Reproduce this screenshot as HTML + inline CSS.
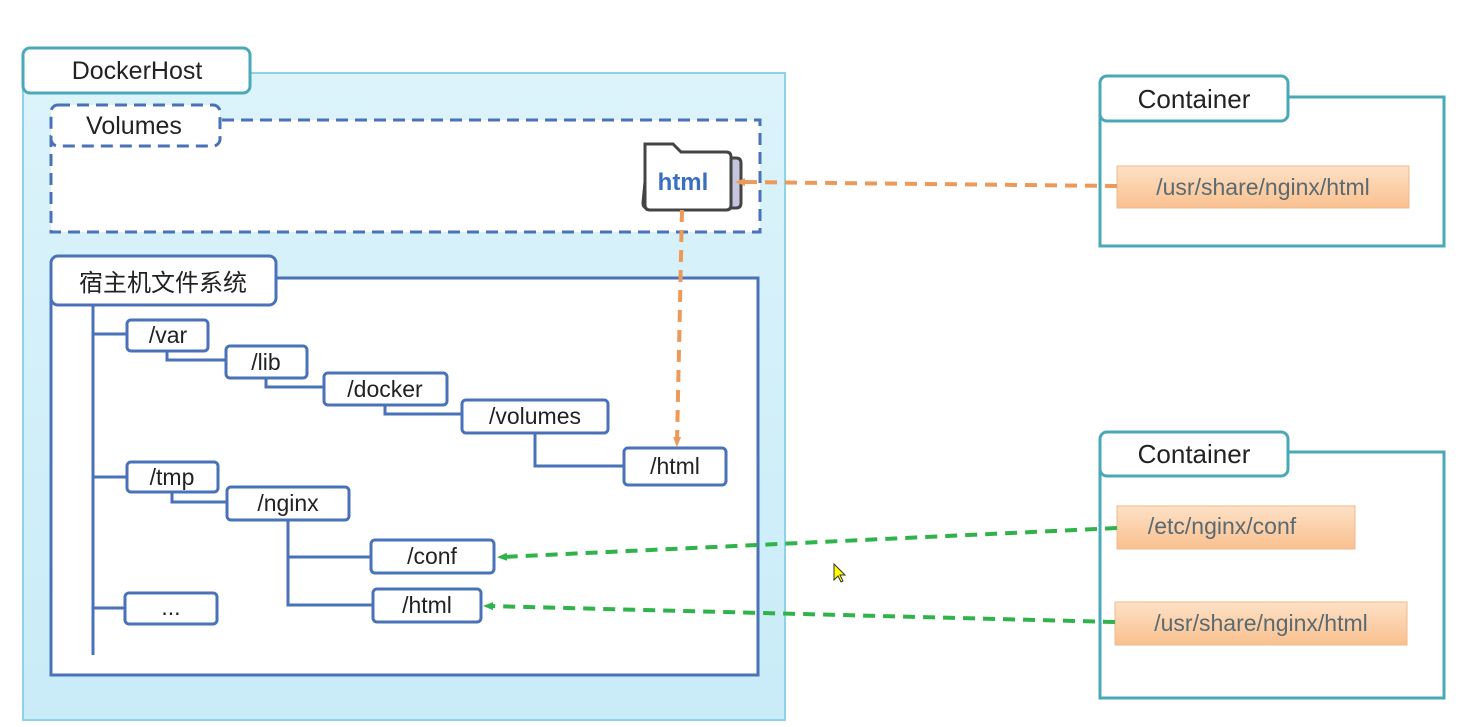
<!DOCTYPE html><html><head><meta charset="utf-8"><style>body{margin:0;background:#fff}svg{display:block}text{font-family:"Liberation Sans","Noto Sans CJK SC",sans-serif}</style></head><body>
<svg width="1467" height="727" viewBox="0 0 1467 727" xmlns="http://www.w3.org/2000/svg">
<defs>
<linearGradient id="g" x1="0" y1="0" x2="0" y2="1"><stop offset="0" stop-color="#dcf3fb"/><stop offset="1" stop-color="#c9ecf8"/></linearGradient>
<linearGradient id="o" x1="0" y1="0" x2="0" y2="1"><stop offset="0" stop-color="#fde1c6"/><stop offset="1" stop-color="#f9c08f"/></linearGradient>
<marker id="ao" markerUnits="userSpaceOnUse" markerWidth="10" markerHeight="10" refX="5" refY="5" orient="auto"><path d="M0,1 L10,5 L0,9 Z" fill="#ec9a5a"/></marker>
<marker id="ag" markerUnits="userSpaceOnUse" markerWidth="10" markerHeight="10" refX="5" refY="5" orient="auto"><path d="M0,1 L10,5 L0,9 Z" fill="#2fb34a"/></marker>
</defs>
<rect x="23" y="73" width="762" height="647" fill="url(#g)" stroke="#8fd4e6" stroke-width="2"/>
<rect x="23" y="48" width="227" height="45" rx="7" fill="#fff" stroke="#4aa8b8" stroke-width="3"/>
<text x="137" y="79" font-size="25" text-anchor="middle" fill="#222">DockerHost</text>
<rect x="51" y="120" width="709" height="112" fill="#fff" stroke="#4a72b8" stroke-width="3" stroke-dasharray="12,7"/>
<rect x="51" y="105" width="169" height="41" rx="7" fill="#fff" stroke="#4a72b8" stroke-width="3" stroke-dasharray="12,7"/>
<text x="134" y="134" font-size="25" text-anchor="middle" fill="#222">Volumes</text>
<path d="M648,150 l30,0 l8,8 l50,0 q5,0 5,5 l0,40 q0,5 -5,5 l-88,0 q-5,0 -5,-5 z" fill="#c5c6dd" stroke="#444" stroke-width="3"/>
<path d="M645,144 l28,0 l8,8 l45,0 q5,0 5,5 l0,48 q0,5 -5,5 l-76,0 q-5,0 -5,-5 z" fill="#fff" stroke="#444" stroke-width="3"/>
<text x="683" y="190" font-size="24" font-weight="bold" text-anchor="middle" fill="#3b6fc0">html</text>
<rect x="51" y="278" width="707" height="397" fill="#fff" stroke="#4a72b8" stroke-width="3"/>
<rect x="51" y="256" width="225" height="49" rx="7" fill="#fff" stroke="#4a72b8" stroke-width="3"/>
<text x="163" y="291" font-size="24" text-anchor="middle" fill="#222">宿主机文件系统</text>
<g stroke="#4a72b8" stroke-width="3" fill="none">
<path d="M93,305 V655 M93,334 H127 M93,477 H127 M93,608 H125"/>
<path d="M167,351 V360 H226 M266,378 V387 H324 M385,405 V414 H462 M535,433 V466 H624"/>
<path d="M172,492 V502 H227 M288,520 V605 H373 M288,557 H371"/>
</g>
<g fill="#fff" stroke="#4a72b8" stroke-width="3">
<rect x="127" y="320" width="81" height="31" rx="4"/><rect x="226" y="346" width="81" height="32" rx="4"/>
<rect x="324" y="373" width="123" height="32" rx="4"/><rect x="462" y="400" width="146" height="33" rx="4"/>
<rect x="624" y="448" width="102" height="37" rx="4"/><rect x="127" y="462" width="91" height="30" rx="4"/>
<rect x="227" y="487" width="122" height="33" rx="4"/><rect x="371" y="540" width="123" height="33" rx="4"/>
<rect x="373" y="589" width="108" height="33" rx="4"/><rect x="125" y="593" width="92" height="31" rx="4"/>
</g>
<g font-size="23" fill="#222" text-anchor="middle">
<text x="168" y="343">/var</text><text x="266" y="370">/lib</text><text x="385" y="397">/docker</text>
<text x="535" y="424">/volumes</text><text x="675" y="474">/html</text><text x="172" y="485">/tmp</text>
<text x="288" y="511">/nginx</text><text x="432" y="564">/conf</text><text x="427" y="613">/html</text><text x="171" y="615">...</text>
</g>
<rect x="1100" y="97" width="344" height="149" fill="#fff" stroke="#4aa8b8" stroke-width="3"/>
<rect x="1100" y="76" width="188" height="45" rx="7" fill="#fff" stroke="#4aa8b8" stroke-width="3"/>
<text x="1194" y="108" font-size="26" text-anchor="middle" fill="#222">Container</text>
<rect x="1117" y="166" width="292" height="42" fill="url(#o)" stroke="#f0b88a"/>
<text x="1263" y="195" font-size="23" text-anchor="middle" fill="#5a6a70">/usr/share/nginx/html</text>
<rect x="1100" y="452" width="344" height="246" fill="#fff" stroke="#4aa8b8" stroke-width="3"/>
<rect x="1100" y="432" width="188" height="44" rx="7" fill="#fff" stroke="#4aa8b8" stroke-width="3"/>
<text x="1194" y="463" font-size="26" text-anchor="middle" fill="#222">Container</text>
<rect x="1117" y="506" width="238" height="43" fill="url(#o)" stroke="#f0b88a"/>
<text x="1222" y="534" font-size="23" text-anchor="middle" fill="#5a6a70">/etc/nginx/conf</text>
<rect x="1115" y="602" width="292" height="43" fill="url(#o)" stroke="#f0b88a"/>
<text x="1261" y="631" font-size="23" text-anchor="middle" fill="#5a6a70">/usr/share/nginx/html</text>
<g stroke-width="4" stroke-dasharray="12,8" fill="none">
<path d="M1117,186 L740,182" stroke="#ec9a5a" marker-end="url(#ao)"/>
<path d="M682,210 L677,442" stroke="#ec9a5a" marker-end="url(#ao)"/>
<path d="M1117,528 L502,557" stroke="#2fb34a" marker-end="url(#ag)"/>
<path d="M1115,622 L488,606" stroke="#2fb34a" marker-end="url(#ag)"/>
</g>
<path d="M834,564 l0,16 l4,-4 l3,6 l2,-1 l-3,-6 l5,0 z" fill="#ff0" stroke="#333" stroke-width="1"/>
</svg></body></html>
